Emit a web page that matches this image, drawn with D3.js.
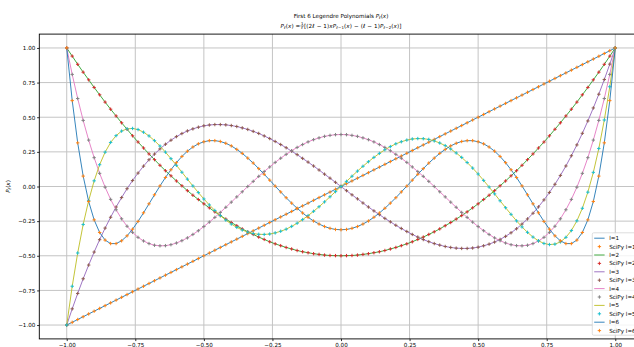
<!DOCTYPE html>
<html>
<head>
<meta charset="utf-8">
<script src="https://cdn.jsdelivr.net/npm/d3@7"></script>
<style>
  html, body { margin: 0; padding: 0; background: #fff; overflow: hidden; }
  svg { display: block; font-family: "DejaVu Sans", sans-serif; }
</style>
</head>
<body>
<svg id="chart" width="634" height="347"></svg>
<script>
// Sample points on [-1, 1]
const xValues = [-1.00,-0.98,-0.96,-0.94,-0.92,-0.90,-0.88,-0.86,-0.84,-0.82,-0.80,-0.78,-0.76,-0.74,-0.72,-0.70,-0.68,-0.66,-0.64,-0.62,-0.60,-0.58,-0.56,-0.54,-0.52,-0.50,-0.48,-0.46,-0.44,-0.42,-0.40,-0.38,-0.36,-0.34,-0.32,-0.30,-0.28,-0.26,-0.24,-0.22,-0.20,-0.18,-0.16,-0.14,-0.12,-0.10,-0.08,-0.06,-0.04,-0.02,0.00,0.02,0.04,0.06,0.08,0.10,0.12,0.14,0.16,0.18,0.20,0.22,0.24,0.26,0.28,0.30,0.32,0.34,0.36,0.38,0.40,0.42,0.44,0.46,0.48,0.50,0.52,0.54,0.56,0.58,0.60,0.62,0.64,0.66,0.68,0.70,0.72,0.74,0.76,0.78,0.80,0.82,0.84,0.86,0.88,0.90,0.92,0.94,0.96,0.98,1.00];

// Polynomial values at those points
const P1 = [-1.00,-0.98,-0.96,-0.94,-0.92,-0.90,-0.88,-0.86,-0.84,-0.82,-0.80,-0.78,-0.76,-0.74,-0.72,-0.70,-0.68,-0.66,-0.64,-0.62,-0.60,-0.58,-0.56,-0.54,-0.52,-0.50,-0.48,-0.46,-0.44,-0.42,-0.40,-0.38,-0.36,-0.34,-0.32,-0.30,-0.28,-0.26,-0.24,-0.22,-0.20,-0.18,-0.16,-0.14,-0.12,-0.10,-0.08,-0.06,-0.04,-0.02,0.00,0.02,0.04,0.06,0.08,0.10,0.12,0.14,0.16,0.18,0.20,0.22,0.24,0.26,0.28,0.30,0.32,0.34,0.36,0.38,0.40,0.42,0.44,0.46,0.48,0.50,0.52,0.54,0.56,0.58,0.60,0.62,0.64,0.66,0.68,0.70,0.72,0.74,0.76,0.78,0.80,0.82,0.84,0.86,0.88,0.90,0.92,0.94,0.96,0.98,1.00];

const P2 = [1.000,0.941,0.882,0.825,0.770,0.715,0.662,0.609,0.558,0.509,0.460,0.413,0.366,0.321,0.278,0.235,0.194,0.153,0.114,0.077,0.040,0.005,-0.030,-0.063,-0.094,-0.125,-0.154,-0.183,-0.210,-0.235,-0.260,-0.283,-0.306,-0.327,-0.346,-0.365,-0.382,-0.399,-0.414,-0.427,-0.440,-0.451,-0.462,-0.471,-0.478,-0.485,-0.490,-0.495,-0.498,-0.499,
  -0.500,-0.499,-0.498,-0.495,-0.490,-0.485,-0.478,-0.471,-0.462,-0.451,-0.440,-0.427,-0.414,-0.399,-0.382,-0.365,-0.346,-0.327,-0.306,-0.283,-0.260,-0.235,-0.210,-0.183,-0.154,-0.125,-0.094,-0.063,-0.030,0.005,0.040,0.077,0.114,0.153,0.194,0.235,0.278,0.321,0.366,0.413,0.460,0.509,0.558,0.609,0.662,0.715,0.770,0.825,0.882,0.941,1.000];

const P3 = [-1.000,-0.883,-0.772,-0.666,-0.567,-0.473,-0.384,-0.300,-0.222,-0.148,-0.080,-0.016,0.043,0.097,0.147,0.193,0.234,0.271,0.305,0.334,0.360,0.382,0.401,0.416,0.428,0.438,0.444,0.447,0.447,0.445,0.440,0.433,0.423,0.412,0.398,0.383,0.365,0.346,0.325,0.303,0.280,0.255,0.230,0.203,0.176,0.148,0.119,0.089,0.060,0.030,
  0.000,-0.030,-0.060,-0.089,-0.119,-0.148,-0.176,-0.203,-0.230,-0.255,-0.280,-0.303,-0.325,-0.346,-0.365,-0.383,-0.398,-0.412,-0.423,-0.433,-0.440,-0.445,-0.447,-0.447,-0.444,-0.438,-0.428,-0.416,-0.401,-0.382,-0.360,-0.334,-0.305,-0.271,-0.234,-0.193,-0.147,-0.097,-0.043,0.016,0.080,0.148,0.222,0.300,0.384,0.473,0.567,0.666,0.772,0.883,1.000];

const P4 = [1.000,0.809,0.635,0.477,0.335,0.208,0.095,-0.005,-0.093,-0.168,-0.233,-0.287,-0.331,-0.367,-0.393,-0.412,-0.424,-0.428,-0.427,-0.420,-0.408,-0.391,-0.371,-0.346,-0.319,-0.289,-0.257,-0.223,-0.187,-0.150,-0.113,-0.075,-0.038,0.000,0.037,0.073,0.108,0.141,0.174,0.204,0.232,0.258,0.282,0.303,0.322,0.338,0.351,0.362,0.369,0.374,
  0.375,0.374,0.369,0.362,0.351,0.338,0.322,0.303,0.282,0.258,0.232,0.204,0.174,0.141,0.108,0.073,0.037,0.000,-0.038,-0.075,-0.113,-0.150,-0.187,-0.223,-0.257,-0.289,-0.319,-0.346,-0.371,-0.391,-0.408,-0.420,-0.427,-0.428,-0.424,-0.412,-0.393,-0.367,-0.331,-0.287,-0.233,-0.168,-0.093,-0.005,0.095,0.208,0.335,0.477,0.635,0.809,1.000];

const P5 = [-1.000,-0.720,-0.480,-0.274,-0.102,0.041,0.157,0.248,0.318,0.367,0.400,0.416,0.419,0.411,0.392,0.365,0.331,0.292,0.248,0.201,0.153,0.103,0.053,0.004,-0.044,-0.090,-0.133,-0.173,-0.210,-0.242,-0.271,-0.295,-0.314,-0.329,-0.340,-0.345,-0.346,-0.343,-0.335,-0.323,-0.308,-0.288,-0.265,-0.239,-0.210,-0.179,-0.146,-0.111,-0.074,-0.037,
  0.000,0.037,0.074,0.111,0.146,0.179,0.210,0.239,0.265,0.288,0.308,0.323,0.335,0.343,0.346,0.345,0.340,0.329,0.314,0.295,0.271,0.242,0.210,0.173,0.133,0.090,0.044,-0.004,-0.053,-0.103,-0.153,-0.201,-0.248,-0.292,-0.331,-0.365,-0.392,-0.411,-0.419,-0.416,-0.400,-0.367,-0.318,-0.248,-0.157,-0.041,0.102,0.274,0.480,0.720,1.000];

const P6 = [1.000,0.620,0.315,0.075,-0.108,-0.241,-0.332,-0.387,-0.412,-0.412,-0.392,-0.356,-0.308,-0.252,-0.190,-0.125,-0.060,0.004,0.065,0.121,0.172,0.217,0.255,0.285,0.308,0.323,0.331,0.331,0.325,0.312,0.293,0.268,0.239,0.205,0.169,0.129,0.088,0.046,0.003,-0.039,-0.081,-0.120,-0.157,-0.191,-0.222,-0.249,-0.271,-0.289,-0.302,-0.310,
  -0.312,-0.310,-0.302,-0.289,-0.271,-0.249,-0.222,-0.191,-0.157,-0.120,-0.081,-0.039,0.003,0.046,0.088,0.129,0.169,0.205,0.239,0.268,0.293,0.312,0.325,0.331,0.331,0.323,0.308,0.285,0.255,0.217,0.172,0.121,0.065,0.004,-0.060,-0.125,-0.190,-0.252,-0.308,-0.356,-0.392,-0.412,-0.412,-0.387,-0.332,-0.241,-0.108,0.075,0.315,0.620,1.000];

const degrees = [1, 2, 3, 4, 5, 6];
const seriesValues = [P1, P2, P3, P4, P5, P6];
const xTicks = [-1.00, -0.75, -0.50, -0.25, 0.00, 0.25, 0.50, 0.75, 1.00];
const yTicks = [-1.00, -0.75, -0.50, -0.25, 0.00, 0.25, 0.50, 0.75, 1.00];

// matplotlib tab10 cycle: each degree uses a line colour then a marker colour
const tab10 = ["#1f77b4","#ff7f0e","#2ca02c","#d62728","#9467bd","#8c564b","#e377c2","#7f7f7f","#bcbd22","#17becf"];

const FS = 5.6;
const svg = d3.select("#chart");
svg.append("rect").attr("width", 634).attr("height", 347).attr("fill", "#fff");

const plot = { left: 39.3, right: 642.7, top: 34.1, bottom: 338.9 };
const x = d3.scaleLinear().domain([-1.1, 1.1]).range([plot.left, plot.right]);
const y = d3.scaleLinear().domain([-1.1, 1.1]).range([plot.bottom, plot.top]);

// grid
const grid = svg.append("g").attr("stroke", "#c4c4c4").attr("stroke-width", 1);
grid.selectAll("line.gx").data(xTicks).join("line")
  .attr("x1", d => x(d)).attr("x2", d => x(d))
  .attr("y1", plot.top).attr("y2", plot.bottom);
grid.selectAll("line.gy").data(yTicks).join("line")
  .attr("x1", plot.left).attr("x2", plot.right)
  .attr("y1", d => y(d)).attr("y2", d => y(d));

// curves and markers
const line = d3.line().x((d, i) => x(xValues[i])).y(d => y(d));
const plus = "M-1.7,0H1.7M0,-1.7V1.7";
const marks = svg.append("g");
degrees.forEach((l, k) => {
  const vals = seriesValues[k];
  const lc = tab10[(2 * k) % 10], mc = tab10[(2 * k + 1) % 10];
  marks.append("path").datum(vals).attr("d", line)
    .attr("fill", "none").attr("stroke", lc).attr("stroke-width", 0.9)
    .attr("stroke-linejoin", "round");
  marks.append("g").selectAll("path").data(vals).join("path")
    .attr("transform", (d, i) => `translate(${x(xValues[i])},${y(d)})`)
    .attr("d", plus).attr("stroke", mc).attr("stroke-width", 0.95).attr("fill", "none");
});

// spines
svg.append("rect")
  .attr("x", plot.left).attr("y", plot.top)
  .attr("width", plot.right - plot.left).attr("height", plot.bottom - plot.top)
  .attr("fill", "none").attr("stroke", "#000").attr("stroke-width", 0.9);

// axes
const fmt = d3.format(".2f");
const xAxis = svg.append("g").attr("transform", `translate(0,${plot.bottom})`)
  .call(d3.axisBottom(x).tickValues(xTicks).tickFormat(fmt).tickSize(2.2).tickPadding(1.8));
const yAxis = svg.append("g").attr("transform", `translate(${plot.left},0)`)
  .call(d3.axisLeft(y).tickValues(yTicks).tickFormat(fmt).tickSize(2.2).tickPadding(1.8));
[xAxis, yAxis].forEach(a => {
  a.select(".domain").remove();
  a.selectAll(".tick line").attr("stroke", "#000").attr("stroke-width", 0.8);
  a.selectAll(".tick text").attr("fill", "#000").attr("font-size", FS)
    .attr("font-family", "DejaVu Sans");
});
xAxis.selectAll(".tick text").attr("dy", "0.8em");

// rich text helper: pieces of {t, it, sub}
function rich(textSel, pieces) {
  let shifted = 0;
  pieces.forEach(p => {
    const ts = textSel.append("tspan").text(p.t);
    if (p.it) ts.attr("font-style", "italic");
    const want = p.sub ? 1.3 : 0;
    if (want !== shifted) { ts.attr("dy", want - shifted); shifted = want; }
    if (p.sub) ts.attr("font-size", FS * 0.7);
  });
  return textSel;
}

const cx = (plot.left + plot.right) / 2;

// title line 1
rich(svg.append("text").attr("x", cx).attr("y", 17.6).attr("text-anchor", "middle")
  .attr("font-size", FS).attr("fill", "#000"),
  [{t: "First 6 Legendre Polynomials "}, {t: "P", it: 1}, {t: "ℓ", it: 1, sub: 1}, {t: "("}, {t: "x", it: 1}, {t: ")"}]);

// title line 2 : recurrence relation with a small fraction
const eq = svg.append("g").attr("font-size", FS).attr("fill", "#000").attr("letter-spacing", 0.12);
const baseY = 27.8;
const left = rich(eq.append("text").attr("y", baseY),
  [{t: "P", it: 1}, {t: "ℓ", it: 1, sub: 1}, {t: "("}, {t: "x", it: 1}, {t: ") = "}]);
const fracNum = eq.append("text").attr("y", baseY - 2.6).attr("font-size", FS * 0.7).attr("text-anchor", "middle").text("1");
const fracDen = eq.append("text").attr("y", baseY + 1.6).attr("font-size", FS * 0.7).attr("text-anchor", "middle")
  .attr("font-style", "italic").text("ℓ");
const fracBar = eq.append("line").attr("stroke", "#000").attr("stroke-width", 0.4)
  .attr("y1", baseY - 1.9).attr("y2", baseY - 1.9);
const right = rich(eq.append("text").attr("y", baseY),
  [{t: "[(2"}, {t: "ℓ", it: 1}, {t: " − 1)"}, {t: "xP", it: 1}, {t: "ℓ", it: 1, sub: 1}, {t: "−1", sub: 1},
   {t: "("}, {t: "x", it: 1}, {t: ") − ("}, {t: "ℓ", it: 1}, {t: " − 1)"}, {t: "P", it: 1}, {t: "ℓ", it: 1, sub: 1},
   {t: "−2", sub: 1}, {t: "("}, {t: "x", it: 1}, {t: ")]"}]);
const wL = left.node().getComputedTextLength();
const wF = Math.max(fracNum.node().getComputedTextLength(), fracDen.node().getComputedTextLength()) + 1.0;
const wR = right.node().getComputedTextLength();
const x0 = cx - (wL + wF + wR) / 2;
left.attr("x", x0);
fracNum.attr("x", x0 + wL + wF / 2);
fracDen.attr("x", x0 + wL + wF / 2);
fracBar.attr("x1", x0 + wL).attr("x2", x0 + wL + wF);
right.attr("x", x0 + wL + wF);

// y label
rich(svg.append("text").attr("transform", "translate(9.5,186.5) rotate(-90)").attr("text-anchor", "middle")
  .attr("font-size", FS).attr("fill", "#000"),
  [{t: "P", it: 1}, {t: "ℓ", it: 1, sub: 1}, {t: "("}, {t: "x", it: 1}, {t: ")"}]);

// legend
const lg = svg.append("g");
lg.append("rect").attr("x", 592.3).attr("y", 232.8).attr("width", 47.6).attr("height", 102.4)
  .attr("rx", 1.4).attr("fill", "#fff").attr("fill-opacity", 0.8)
  .attr("stroke", "#d0d0d0").attr("stroke-width", 0.7);
const entries = [];
degrees.forEach((l, k) => {
  entries.push({kind: "line", label: `l=${l}`, color: tab10[(2 * k) % 10]});
  entries.push({kind: "mark", label: `SciPy l=${l}`, color: tab10[(2 * k + 1) % 10]});
});
entries.forEach((e, i) => {
  const yy = 238.2 + i * 8.4;
  if (e.kind === "line") {
    lg.append("line").attr("x1", 594.2).attr("x2", 604.6).attr("y1", yy).attr("y2", yy)
      .attr("stroke", e.color).attr("stroke-width", 0.9);
  } else {
    lg.append("path").attr("transform", `translate(599.4,${yy})`).attr("d", plus)
      .attr("stroke", e.color).attr("stroke-width", 0.95).attr("fill", "none");
  }
  lg.append("text").attr("x", 609.2).attr("y", yy).attr("dy", "0.36em")
    .attr("font-size", FS).attr("fill", "#000").text(e.label);
});
</script>
</body>
</html>
